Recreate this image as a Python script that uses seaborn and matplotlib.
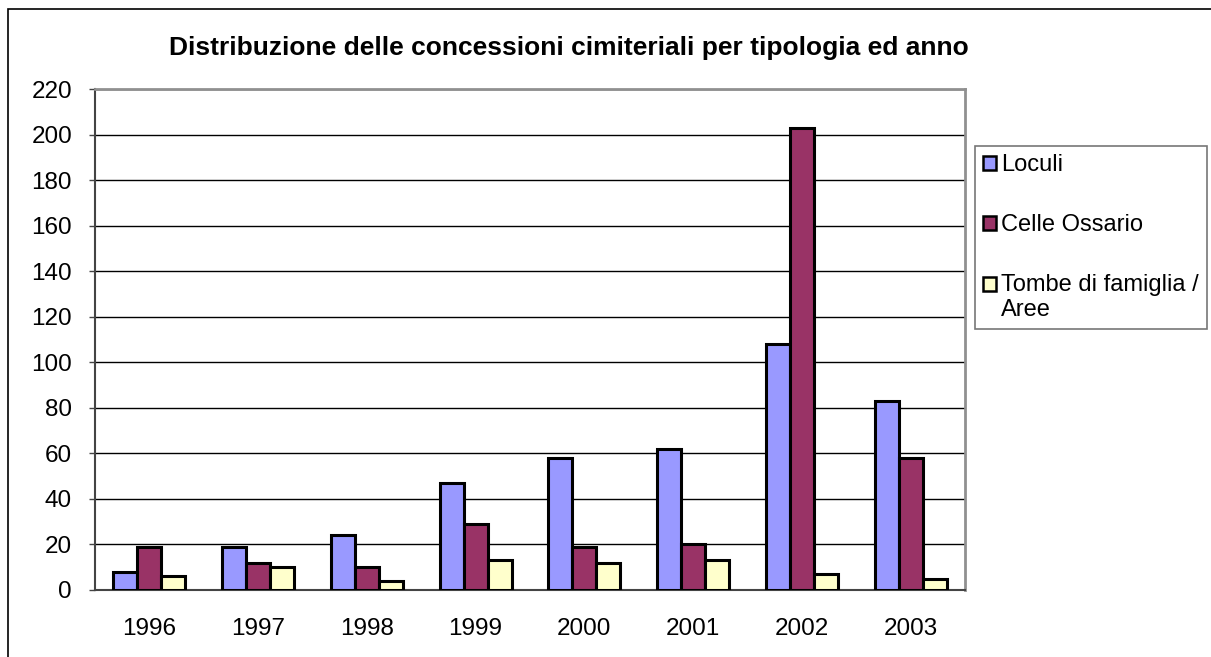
import pandas as pd
import matplotlib
matplotlib.use("Agg")
import matplotlib.pyplot as plt
import seaborn as sns
from matplotlib.patches import Rectangle, Patch
from matplotlib.legend_handler import HandlerPatch
from matplotlib.ticker import FixedLocator

# dati
anni = ["1996", "1997", "1998", "1999", "2000", "2001", "2002", "2003"]
loculi = [8, 19, 24, 47, 58, 62, 108, 83]
celle_ossario = [19, 12, 10, 29, 19, 20, 203, 58]
tombe_famiglia = [6, 10, 4, 13, 12, 13, 7, 5]
serie = ["Loculi", "Celle Ossario", "Tombe di famiglia /\nAree"]
colori = ["#9999FF", "#993366", "#FFFFCC"]

df = pd.DataFrame({
    "anno": anni * 3,
    "valore": loculi + celle_ossario + tombe_famiglia,
    "tipologia": [serie[0]] * 8 + [serie[1]] * 8 + [serie[2]] * 8,
})

sns.set_style("white")
plt.rcParams["font.family"] = ["Liberation Sans", "DejaVu Sans"]
plt.rcParams["text.color"] = "black"
plt.rcParams["xtick.labelcolor"] = "black"
plt.rcParams["ytick.labelcolor"] = "black"

fig = plt.figure(figsize=(12.11, 6.57), dpi=100)
ax = fig.add_axes([95 / 1211, 67 / 657, 870 / 1211, 501 / 657])

sns.barplot(data=df, x="anno", y="valore", hue="tipologia", palette=colori,
            width=0.66, edgecolor="black", linewidth=2.2, saturation=1,
            legend=False, ax=ax, zorder=3)

ax.set_ylim(0, 220)
ax.set_xlim(-0.5, 7.5)
ax.set_yticks(range(0, 221, 20))
ax.yaxis.grid(True, color="black", linewidth=1.0, zorder=0)
ax.set_axisbelow(True)
ax.set_xlabel("")
ax.set_ylabel("")

# tacche x tra le categorie
ax.xaxis.set_minor_locator(FixedLocator([i - 0.5 for i in range(9)]))
ax.tick_params(axis="x", which="major", length=0, labelsize=17.5, pad=20, labelcolor="black")
ax.tick_params(axis="x", which="minor", length=4.5, width=1, color="#444444", direction="out")
ax.tick_params(axis="y", length=4.5, width=1, color="#444444", direction="out",
               labelsize=17.5, pad=12, left=True, labelcolor="black")

for s in ["left", "bottom"]:
    ax.spines[s].set_color("#444444")
    ax.spines[s].set_linewidth(1.5)
for s in ["top", "right"]:
    ax.spines[s].set_color("#909090")
    ax.spines[s].set_linewidth(2)
    ax.spines[s].set_visible(True)

fig.text(0.47, 0.927, "Distribuzione delle concessioni cimiteriali per tipologia ed anno",
         ha="center", va="center", fontsize=19, fontweight="bold", color="black")


# quadratino allineato alla prima riga del testo su due righe
def quadrato_alto(legend, orig_handle, xdescent, ydescent, width, height, fontsize):
    return Rectangle((-xdescent, -ydescent + 10), width, height)


handles = [Patch(facecolor=c, edgecolor="black", linewidth=1.8) for c in colori]
leg = fig.legend(handles, serie, loc="upper left", bbox_to_anchor=(975 / 1211, 1 - 146 / 657),
                 fontsize=17, frameon=True, fancybox=False, edgecolor="#555555",
                 handlelength=0.55, handleheight=0.55, handletextpad=0.2,
                 labelspacing=1.6, borderpad=0.35, borderaxespad=0,
                 handler_map={handles[2]: HandlerPatch(patch_func=quadrato_alto)})
leg.get_frame().set_linewidth(1.2)
for t in leg.get_texts():
    t.set_color("black")

# cornice esterna del grafico
fig.patches.append(Rectangle((8 / 1211, -0.1), 1.1, 1 - 9 / 657 + 0.1, transform=fig.transFigure,
                             fill=False, edgecolor="black", linewidth=1.2))

fig.savefig("out.png", dpi=100)
